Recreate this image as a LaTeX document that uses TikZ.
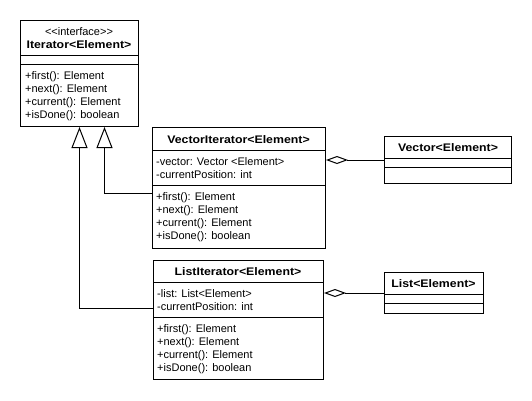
\documentclass[tikz,border=0pt]{standalone}
\usepackage{fontspec}
\setmainfont{Liberation Sans}[BoldFeatures={FakeStretch=1.12}]
\usetikzlibrary{arrows.meta}

\newcommand{\iterops}{+first(): Element, +next(): Element, +current(): Element, +isDone(): boolean}

\begin{document}
\begin{tikzpicture}[x=1pt,y=-1pt,
    classbox/.style={draw,line width=1pt,anchor=north west,inner sep=0pt},
    divider/.style={line width=1pt},
    member/.style={anchor=base west,inner sep=0pt,font=\fontsize{11}{13}\selectfont},
    classname/.style={anchor=base,inner sep=0pt,font=\fontsize{11}{13}\selectfont\bfseries},
    inherit/.style={-{Triangle[open,length=21pt,width=16pt]},line width=1pt},
    aggregate/.style={-{Diamond[open,length=22pt,width=8pt]},line width=1pt}]

    \useasboundingbox (0,0) rectangle (532,400);

    % interface
    \node[classbox,minimum width=118,minimum height=106] (iter) at (20,20) {};
    \node[member,anchor=base] (stereo) at (79,35) {{<}{<}interface{>}{>}};
    \node[classname] (itername) at (79,48) {Iterator<Element>};
    \draw[divider] (iter.west |- 0,55.5) -- (iter.east |- 0,55.5);
    \draw[divider] (iter.west |- 0,64.5) -- (iter.east |- 0,64.5);
    \foreach \op [count=\i] in \iterops
        \node[member] (im\i) at (25,66+13*\i) {\op};

    % vector iterator
    \node[classbox,minimum width=173,minimum height=121] (vecit) at (152,127) {};
    \node[classname] (vecitname) at (238.5,143) {VectorIterator<Element>};
    \draw[divider] (vecit.west |- 0,150) -- (vecit.east |- 0,150);
    \draw[divider] (vecit.west |- 0,185) -- (vecit.east |- 0,185);
    \node[member] (va1) at (156,165) {-vector: Vector <Element>};
    \node[member] (va2) at (156,178) {-currentPosition: int};
    \foreach \op [count=\i] in \iterops
        \node[member] (vm\i) at (156,187+13*\i) {\op};

    % list iterator
    \node[classbox,minimum width=170,minimum height=119] (listit) at (153,260) {};
    \node[classname] (listitname) at (238,275) {ListIterator<Element>};
    \draw[divider] (listit.west |- 0,282) -- (listit.east |- 0,282);
    \draw[divider] (listit.west |- 0,317) -- (listit.east |- 0,317);
    \node[member] (la1) at (157,297) {-list: List<Element>};
    \node[member] (la2) at (157,310) {-currentPosition: int};
    \foreach \op [count=\i] in \iterops
        \node[member] (lm\i) at (157,319+13*\i) {\op};

    % aggregates
    \node[classbox,minimum width=127,minimum height=47] (vec) at (384,136) {};
    \node[classname] (vecname) at (448,151) {Vector<Element>};
    \draw[divider] (vec.west |- 0,158.5) -- (vec.east |- 0,158.5);
    \draw[divider] (vec.west |- 0,167.5) -- (vec.east |- 0,167.5);

    \node[classbox,minimum width=99,minimum height=41] (lst) at (384,272) {};
    \node[classname] (lstname) at (433.5,287) {List<Element>};
    \draw[divider] (lst.west |- 0,294.5) -- (lst.east |- 0,294.5);
    \draw[divider] (lst.west |- 0,303.5) -- (lst.east |- 0,303.5);

    % relations
    \draw[inherit] ([yshift=-5.5]vecit.west) -| ([xshift=25]iter.south);
    \draw[inherit] ([yshift=11.5]listit.west) -| (iter.south);
    \draw[aggregate] (vec.west) -- (vecit.east |- vec.west);
    \draw[aggregate] (lst.west) -- (listit.east |- lst.west);
\end{tikzpicture}
\end{document}
